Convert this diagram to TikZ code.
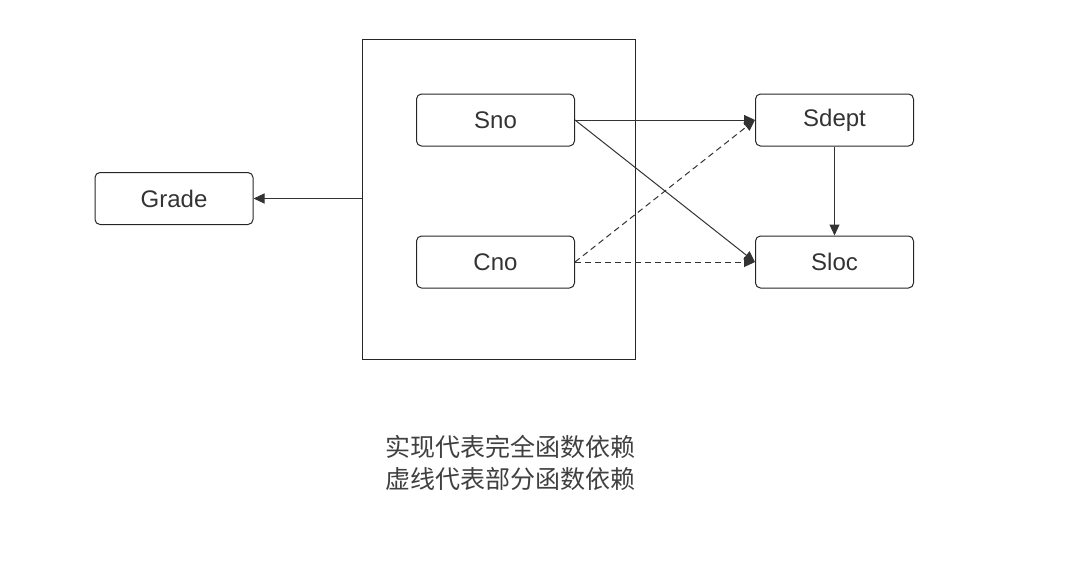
\documentclass[tikz,border=0pt]{standalone}
\usepackage{fontspec}
\setmainfont{Liberation Sans}
\newfontfamily\cjk{Noto Sans CJK SC}
\usetikzlibrary{arrows.meta}
\begin{document}
\begin{tikzpicture}[x=1pt,y=-1pt,
  box/.style={draw=black!85,line width=1pt,rounded corners=5pt,minimum width=158pt,minimum height=52pt,inner sep=0pt,font=\fontsize{24}{28}\selectfont,text=black!80},
  conn/.style={draw=black!80,line width=1pt,-{Triangle[length=11pt,width=10pt]}},
  dconn/.style={conn,dash pattern=on 6pt off 4pt}]
\useasboundingbox (0,0) rectangle (1076,560);
\node[draw=black!85,line width=1pt,minimum width=273pt,minimum height=320pt,inner sep=0pt] (group) at (498.5,199) {};
\node[box] (sno) at (495.5,120) {Sno};
\node[box] (cno) at (495.5,262) {Cno};
\node[box] (sdept) at (834.5,120) {Sdept};
\node[box] (sloc) at (834.5,262) {Sloc};
\node[box] (grade) at (174,198.5) {Grade};
\draw[conn] (sno.east) -- (sdept.west);
\draw[conn] (sno.east) -- (sloc.west);
\draw[dconn] (cno.east) -- (sdept.west);
\draw[dconn] (cno.east) -- (sloc.west);
\draw[conn] (sdept.south) -- (sloc.north);
\draw[conn] (grade.east -| group.west) -- (grade.east);
\node[font=\cjk\fontsize{25}{32}\selectfont,text=black!75,align=center] (legend) at (510,463) {实现代表完全函数依赖\\虚线代表部分函数依赖};
\end{tikzpicture}
\end{document}
